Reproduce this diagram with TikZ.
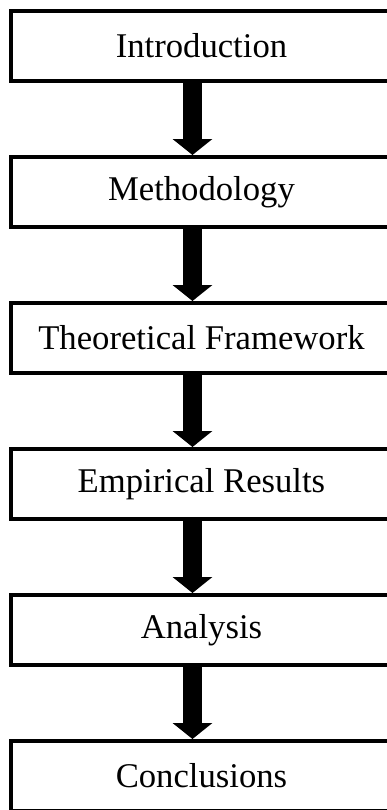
\documentclass[tikz,border=0pt]{standalone}
\usepackage{fontspec}
\setmainfont{Liberation Serif}
\usepackage{tikz}
\usetikzlibrary{arrows.meta,positioning}

\begin{document}
\begin{tikzpicture}[
    stagebox/.style={
      draw=black,
      line width=3pt,
      fill=white,
      minimum width=285.75pt,
      minimum height=52.5pt,
      inner sep=0pt,
      align=center,
      font=\fontsize{26}{30}\selectfont
    },
    flowarrow/.style={
      line width=14.25pt,
      -{Triangle[length=12pt,width=29.25pt]}
    },
    node distance=54pt
  ]
  \useasboundingbox (0,0) rectangle (289.5pt,-607.5pt);

  \node[stagebox] (intro) at (151.1pt,-34.5pt) {Introduction};
  \node[stagebox, below=of intro] (method) {Methodology};
  \node[stagebox, below=of method] (theory) {Theoretical Framework};
  \node[stagebox, below=of theory] (results) {Empirical Results};
  \node[stagebox, below=of results] (analysis) {Analysis};
  \node[stagebox, below=of analysis] (concl) {Conclusions};

  % arrows between the stages
  \foreach \a/\b in {intro/method, method/theory, theory/results,
                     results/analysis, analysis/concl}
    \draw[flowarrow] ([xshift=-6.75pt]\a.south) -- ([xshift=-6.75pt]\b.north);
\end{tikzpicture}
\end{document}
